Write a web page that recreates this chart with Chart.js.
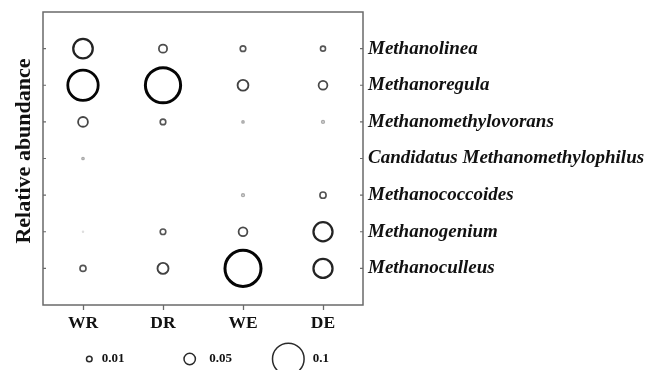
<!DOCTYPE html>
<html>
<head>
<meta charset="utf-8">
<script src="https://cdn.jsdelivr.net/npm/chart.js@4/dist/chart.umd.min.js"></script>
<style>
  html, body { margin: 0; padding: 0; background: #fff; }
  #wrap { width: 664px; height: 370px; }
</style>
</head>
<body>
<div id="wrap"><canvas id="c" width="664" height="370"></canvas></div>
<script>
// Sampling sites (columns) and methanogen genera (rows, top to bottom)
const sites = ['WR', 'DR', 'WE', 'DE'];
const genera = [
  'Methanolinea',
  'Methanoregula',
  'Methanomethylovorans',
  'Candidatus Methanomethylophilus',
  'Methanococcoides',
  'Methanogenium',
  'Methanoculleus'
];

// Relative abundance of each genus at each site (order follows `genera`)
const WR = [0.070, 0.097, 0.039, 0.004, 0,     0.002, 0.013];
const DR = [0.028, 0.109, 0.010, 0,     0,     0.010, 0.047];
const WE = [0.010, 0.046, 0.004, 0,     0.005, 0.032, 0.111];
const DE = [0.009, 0.032, 0.005, 0,     0.014, 0.069, 0.069];

// Reference abundances shown in the size key
const legendValues = [0.01, 0.05, 0.1];

// Abundance -> circle radius (px), piecewise linear between the key sizes
const sizeStops = [[0, 0], [0.01, 2.8], [0.05, 5.7], [0.1, 15.8]];
function radiusFor(v) {
  for (let i = 1; i < sizeStops.length; i++) {
    const [v0, r0] = sizeStops[i - 1];
    const [v1, r1] = sizeStops[i];
    if (v <= v1 || i === sizeStops.length - 1) {
      return r0 + (v - v0) * (r1 - r0) / (v1 - v0);
    }
  }
  return 0;
}

// Larger circles are drawn darker and heavier
function strokeFor(r) {
  if (r < 1) return '#dddddd';
  if (r < 2) return '#a9a9a9';
  const t = Math.max(0, Math.min((r - 2.8) / 11, 1));
  const g = Math.round(85 - 80 * t);
  return `rgb(${g},${g},${g})`;
}
function widthFor(r) {
  return Math.min(1.35 + 0.095 * r, 3);
}

const SERIF = '"Liberation Serif", "Times New Roman", Times, serif';
Chart.defaults.font.family = SERIF;
Chart.defaults.color = '#111';

const columns = [WR, DR, WE, DE];
const datasets = columns.map((vals, xi) => ({
  label: sites[xi],
  data: vals
    .map((v, yi) => ({ v, yi }))
    .filter(d => d.v > 0)
    .map(d => ({ x: xi, y: d.yi, r: radiusFor(d.v) })),
  backgroundColor: 'rgba(0,0,0,0)',
  borderColor: ctx => (ctx.raw ? strokeFor(ctx.raw.r) : '#000'),
  borderWidth: ctx => (ctx.raw ? widthFor(ctx.raw.r) : 1.5)
}));

// Plot frame, inward row ticks, axis title and the size key
const framePlugin = {
  id: 'frame',
  afterDraw(chart) {
    const { ctx, chartArea: a, scales } = chart;
    ctx.save();
    ctx.strokeStyle = '#6a6a6a';
    ctx.lineWidth = 1.5;
    ctx.strokeRect(a.left, a.top, a.right - a.left, a.bottom - a.top);

    ctx.lineWidth = 1.2;
    genera.forEach((_, i) => {
      const y = scales.y.getPixelForValue(i);
      ctx.beginPath();
      ctx.moveTo(a.left, y); ctx.lineTo(a.left + 3, y);
      ctx.moveTo(a.right - 3, y); ctx.lineTo(a.right, y);
      ctx.stroke();
    });

    // vertical axis title
    ctx.save();
    ctx.translate(24, 151);
    ctx.rotate(-Math.PI / 2);
    ctx.font = `bold 22px ${SERIF}`;
    ctx.fillStyle = '#111';
    ctx.textAlign = 'center';
    ctx.textBaseline = 'middle';
    ctx.fillText('Relative abundance', 0, 0);
    ctx.restore();

    // size key below the axis
    const keyY = 359;
    const circleX = [89.3, 189.7, 288.3];
    const textX = [101.7, 209.3, 312.7];
    ctx.font = `bold 13px ${SERIF}`;
    ctx.textBaseline = 'middle';
    ctx.textAlign = 'left';
    legendValues.forEach((v, i) => {
      ctx.beginPath();
      ctx.strokeStyle = '#2a2a2a';
      ctx.lineWidth = 1.5;
      ctx.arc(circleX[i], keyY, radiusFor(v), 0, Math.PI * 2);
      ctx.stroke();
      ctx.fillStyle = '#111';
      ctx.fillText(String(v), textX[i], keyY);
    });
    ctx.restore();
  }
};

// vertical scales: fixed width, no extra label padding at the ends
const fixVertical = width => s => {
  s.width = width;
  s.paddingTop = 0;
  s.paddingBottom = 0;
};

new Chart(document.getElementById('c'), {
  type: 'bubble',
  data: { datasets },
  plugins: [framePlugin],
  options: {
    responsive: false,
    animation: false,
    events: [],
    layout: { autoPadding: false, padding: { top: 12, left: 0, right: 0, bottom: 0 } },
    plugins: { legend: { display: false }, tooltip: { enabled: false } },
    scales: {
      x: {
        type: 'linear',
        position: 'bottom',
        min: -0.5,
        max: 3.5,
        afterBuildTicks: s => { s.ticks = sites.map((_, i) => ({ value: i })); },
        afterFit: s => { s.height = 65; s.paddingLeft = 0; s.paddingRight = 0; },
        grid: { drawOnChartArea: false, drawTicks: true, tickLength: 5, tickColor: '#6a6a6a', tickWidth: 1.3 },
        border: { display: false },
        ticks: {
          padding: 3,
          maxRotation: 0,
          autoSkip: false,
          font: { size: 17.5, weight: 'bold' },
          color: '#111',
          callback: v => sites[v]
        }
      },
      y: {
        type: 'linear',
        position: 'left',
        reverse: true,
        min: -1,
        max: 7,
        afterBuildTicks: s => { s.ticks = genera.map((_, i) => ({ value: i })); },
        afterFit: fixVertical(43),
        grid: { display: false },
        border: { display: false },
        ticks: { display: false }
      },
      y2: {
        type: 'linear',
        position: 'right',
        reverse: true,
        min: -1,
        max: 7,
        afterBuildTicks: s => { s.ticks = genera.map((_, i) => ({ value: i })); },
        afterFit: fixVertical(301),
        grid: { display: false, drawTicks: false, tickLength: 0 },
        border: { display: false },
        ticks: {
          padding: 5,
          autoSkip: false,
          font: { size: 19, weight: 'bold', style: 'italic' },
          color: '#111',
          callback: v => genera[v]
        }
      }
    }
  }
});
</script>
</body>
</html>
